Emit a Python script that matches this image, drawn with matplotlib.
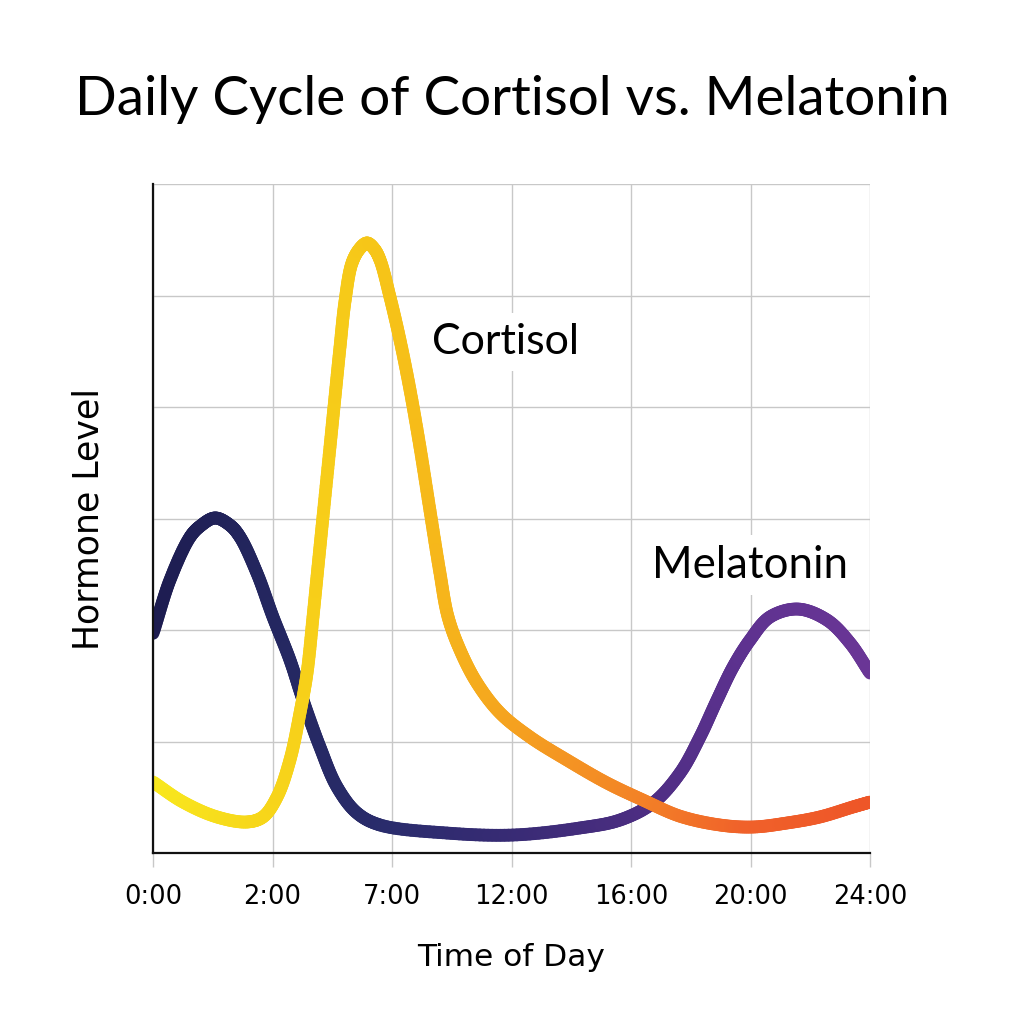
import numpy as np
import matplotlib
matplotlib.use("Agg")
import matplotlib.pyplot as plt
from matplotlib.collections import LineCollection
from matplotlib.colors import LinearSegmentedColormap

# ---- data ----
tick_labels = ["0:00", "2:00", "7:00", "12:00", "16:00", "20:00", "24:00"]

cortisol_x = [0.0, 0.251, 0.536, 0.787, 0.92, 1.038, 1.146, 1.23, 1.289, 1.339, 1.381,
              1.423, 1.481, 1.523, 1.565, 1.607, 1.665, 1.73, 1.791, 1.85, 1.9, 1.983,
              2.067, 2.151, 2.234, 2.318, 2.40, 2.469, 2.569, 2.711, 2.904, 3.155, 3.464,
              3.799, 4.1, 4.41, 4.745, 5.02, 5.305, 5.58, 5.858, 6.0]
cortisol_y = [0.637, 0.457, 0.323, 0.278, 0.323, 0.502, 0.834, 1.256, 1.614, 2.117, 2.57,
              3.02, 3.64, 4.09, 4.538, 4.95, 5.291, 5.42, 5.471, 5.42, 5.318, 4.987,
              4.6, 4.152, 3.641, 3.07, 2.52, 2.117, 1.821, 1.525, 1.256, 1.04, 0.834,
              0.628, 0.475, 0.33, 0.251, 0.233, 0.269, 0.323, 0.413, 0.457]

melatonin_x = [0.0, 0.142, 0.31, 0.393, 0.519, 0.644, 0.728, 0.87, 1.004, 1.146, 1.255,
               1.397, 1.54, 1.707, 1.9, 2.46, 3.01, 3.57, 3.908, 4.184, 4.41, 4.577,
               4.72, 4.854, 4.996, 5.163, 5.397, 5.64, 5.833, 6.0]
melatonin_y = [1.97, 2.448, 2.834, 2.93, 3.005, 2.94, 2.834, 2.51, 2.117, 1.731, 1.372,
               0.951, 0.592, 0.359, 0.251, 0.179, 0.161, 0.224, 0.296, 0.448, 0.717, 1.04,
               1.372, 1.668, 1.91, 2.117, 2.188, 2.09, 1.883, 1.614]

cortisol_colors = ["#F8E81E", "#F7D51A", "#F6C318", "#F5A31F", "#F38626", "#F0612A", "#EE5628"]
melatonin_colors = ["#1D1C50", "#242760", "#2A2C6C", "#372B74", "#4A2D80", "#5E3290", "#6A3696"]

# ---- figure ----
fig = plt.figure(figsize=(10.24, 10.24), dpi=100)
fig.patch.set_facecolor("white")
ax = fig.add_axes([153 / 1024, 1 - 853 / 1024, (870 - 153) / 1024, (853 - 184) / 1024])
ax.set_xlim(0, 6)
ax.set_ylim(0, 6)


def smooth_path(x, y, steps=16):
    """Centripetal Catmull-Rom rendering of the line through the read points."""
    P = np.column_stack([x, y]).astype(float)
    P = np.vstack([2 * P[0] - P[1], P, 2 * P[-1] - P[-2]])
    out = []
    for i in range(1, len(P) - 2):
        p0, p1, p2, p3 = P[i - 1], P[i], P[i + 1], P[i + 2]
        t0 = 0.0
        t1 = t0 + np.linalg.norm(p1 - p0) ** 0.5
        t2 = t1 + np.linalg.norm(p2 - p1) ** 0.5
        t3 = t2 + np.linalg.norm(p3 - p2) ** 0.5
        t = np.linspace(t1, t2, steps, endpoint=False)[:, None]
        a1 = (t1 - t) / (t1 - t0) * p0 + (t - t0) / (t1 - t0) * p1
        a2 = (t2 - t) / (t2 - t1) * p1 + (t - t1) / (t2 - t1) * p2
        a3 = (t3 - t) / (t3 - t2) * p2 + (t - t2) / (t3 - t2) * p3
        b1 = (t2 - t) / (t2 - t0) * a1 + (t - t0) / (t2 - t0) * a2
        b2 = (t3 - t) / (t3 - t1) * a2 + (t - t1) / (t3 - t1) * a3
        c = (t2 - t) / (t2 - t1) * b1 + (t - t1) / (t2 - t1) * b2
        out.append(c)
    out.append(P[-2][None, :])
    return np.vstack(out)


def gradient_line(x, y, colors, lw):
    pts = smooth_path(x, y)
    xs = pts[:, 0]
    p = pts.reshape(-1, 1, 2)
    segs = np.concatenate([p[:-1], p[1:]], axis=1)
    cmap = LinearSegmentedColormap.from_list("g", colors)
    mid = (xs[:-1] + xs[1:]) / 2 / 6.0
    lc = LineCollection(segs, colors=cmap(mid), linewidths=lw,
                        capstyle="round", joinstyle="round", zorder=3)
    ax.add_collection(lc)


gradient_line(melatonin_x, melatonin_y, melatonin_colors, 9.2)
gradient_line(cortisol_x, cortisol_y, cortisol_colors, 9.2)

# grid & spines
ax.set_xticks(range(7))
ax.set_xticklabels(tick_labels, fontsize=18.5, family="DejaVu Sans")
ax.set_yticks(range(7))
ax.set_yticklabels([])
ax.grid(True, color="#c8c8c8", linewidth=1.0, zorder=0)
ax.set_axisbelow(True)
ax.tick_params(axis="x", length=10, color="#c8c8c8", width=1.0, pad=12)
ax.tick_params(axis="y", length=0)
for s in ["top", "right"]:
    ax.spines[s].set_visible(False)
for s in ["left", "bottom"]:
    ax.spines[s].set_color("#111111")
    ax.spines[s].set_linewidth(1.6)
    ax.spines[s].set_zorder(4)

ax.set_xlabel("Time of Day", fontsize=22.5, family="DejaVu Sans", labelpad=24)
ax.set_ylabel("Hormone Level", fontsize=25, family="DejaVu Sans", labelpad=31)

fig.text(0.5, 1 - 100 / 1024, "Daily Cycle of Cortisol vs. Melatonin",
         ha="center", va="center", fontsize=39.5, family="Lato")

ax.text((506 - 153) / 119.5, (853 - 342) / 111.5, "Cortisol", ha="center", va="center",
        fontsize=31, family="Lato", zorder=5,
        bbox=dict(facecolor="white", edgecolor="none", pad=7))
ax.text((750 - 153) / 119.5, (853 - 565) / 111.5, "Melatonin", ha="center", va="center",
        fontsize=31.5, family="Lato", zorder=5,
        bbox=dict(facecolor="white", edgecolor="none", pad=7))

fig.savefig("out.png", dpi=100, facecolor="white")
